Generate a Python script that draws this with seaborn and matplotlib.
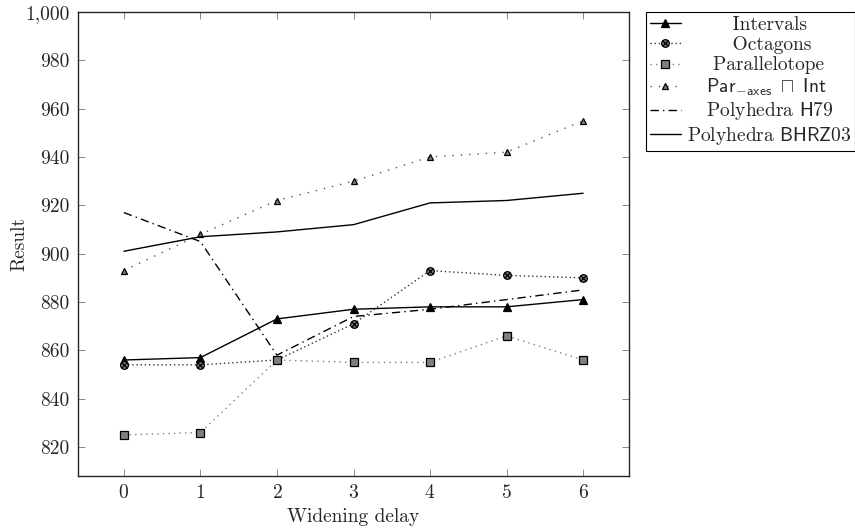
import numpy as np
import pandas as pd
import matplotlib
matplotlib.use("Agg")
import matplotlib.pyplot as plt
import seaborn as sns
from matplotlib.path import Path
from matplotlib.ticker import FuncFormatter

# --- data
delay = [0, 1, 2, 3, 4, 5, 6]
intervals = [856, 857, 873, 877, 878, 878, 881]
octagons = [854, 854, 856, 871, 893, 891, 890]
parallelotope = [825, 826, 856, 855, 855, 866, 856]
par_axes_int = [893, 908, 922, 930, 940, 942, 955]
poly_h79 = [917, 905, 858, 874, 877, 881, 885]
poly_bhrz03 = [901, 907, 909, 912, 921, 922, 925]

labels = ["Intervals", "Octagons", "Parallelotope",
          r"$\mathsf{Par}_{-\mathsf{axes}}\ \sqcap\ \mathsf{Int}$",
          r"Polyhedra $\mathsf{H79}$", r"Polyhedra $\mathsf{BHRZ03}$"]

sns.set_style("ticks")
plt.rcParams['font.family'] = 'serif'
plt.rcParams['font.serif'] = ['cmr10', 'DejaVu Serif']
plt.rcParams['mathtext.fontset'] = 'cm'
plt.rcParams['axes.formatter.use_mathtext'] = True
FS = 14

# circle with a cross, like \otimes
d = 0.7071
otimes = Path.make_compound_path(
    Path.unit_circle(),
    Path([(-d, -d), (d, d), (-d, d), (d, -d)],
         [Path.MOVETO, Path.LINETO, Path.MOVETO, Path.LINETO]))

series = [
    (intervals, dict(color='black', linestyle='-', marker='^', markersize=5.5,
                     markerfacecolor='black', markeredgecolor='black')),
    (octagons, dict(color='#333333', linestyle=(0, (1, 2)), marker=otimes, markersize=5.5,
                    markerfacecolor='#808080', markeredgecolor='black')),
    (parallelotope, dict(color='#808080', linestyle=(0, (1, 3)), marker='s', markersize=5.5,
                         markerfacecolor='#808080', markeredgecolor='black')),
    (par_axes_int, dict(color='#555555', linestyle=(0, (1, 5)), marker='^', markersize=4.5,
                        markerfacecolor='#808080', markeredgecolor='black')),
    (poly_h79, dict(color='black', linestyle=(0, (6, 3, 1, 3)))),
    (poly_bhrz03, dict(color='black', linestyle='-')),
]

fig = plt.figure(figsize=(8.55, 5.32), dpi=100)
ax = fig.add_axes([78 / 855, 1 - 476 / 532, (629 - 78) / 855, (476 - 12) / 532])

for (vals, kw), lab in zip(series, labels):
    df = pd.DataFrame({'delay': delay, 'result': vals})
    sns.lineplot(data=df, x='delay', y='result', ax=ax, label=lab,
                 linewidth=1.0, markeredgewidth=0.9, **kw)

ax.set_xlim(-0.6, 6.6)
ax.set_ylim(808, 1000)
ax.set_xticks(delay)
ax.set_yticks(np.arange(820, 1001, 20))
ax.yaxis.set_major_formatter(FuncFormatter(lambda v, p: f"{v:,.0f}"))
ax.tick_params(direction='in', top=True, right=True, labelsize=FS, length=5, width=0.6,
               color='#777777', pad=6)
for s in ax.spines.values():
    s.set_linewidth(1.0)
ax.set_xlabel("Widening delay", fontsize=FS, labelpad=4)
ax.set_ylabel("Result", fontsize=FS, labelpad=-2)

leg = ax.legend(loc='upper left', bbox_to_anchor=(646 / 855, 1 - 12 / 532),
                bbox_transform=fig.transFigure, fontsize=FS,
                frameon=True, fancybox=False, edgecolor='black', framealpha=1,
                borderaxespad=0, handlelength=1.6, labelspacing=0.12,
                borderpad=0.2, handletextpad=0.3)
leg.get_frame().set_linewidth(0.8)

# centre the legend texts like pgfplots does, by padding with spaces
fig.canvas.draw()
rend = fig.canvas.get_renderer()
texts = leg.get_texts()
widths = [t.get_window_extent(rend).width for t in texts]
probe = fig.text(0, 0, "a a", fontsize=FS)
w2 = probe.get_window_extent(rend).width
probe.set_text("aa")
space_w = w2 - probe.get_window_extent(rend).width
probe.remove()
wmax = max(widths)
for t, w, lab in zip(texts, widths, labels):
    n = int(round((wmax - w) / 2 / space_w))
    t.set_text(" " * n + lab)

fig.savefig("out.png", dpi=100)
